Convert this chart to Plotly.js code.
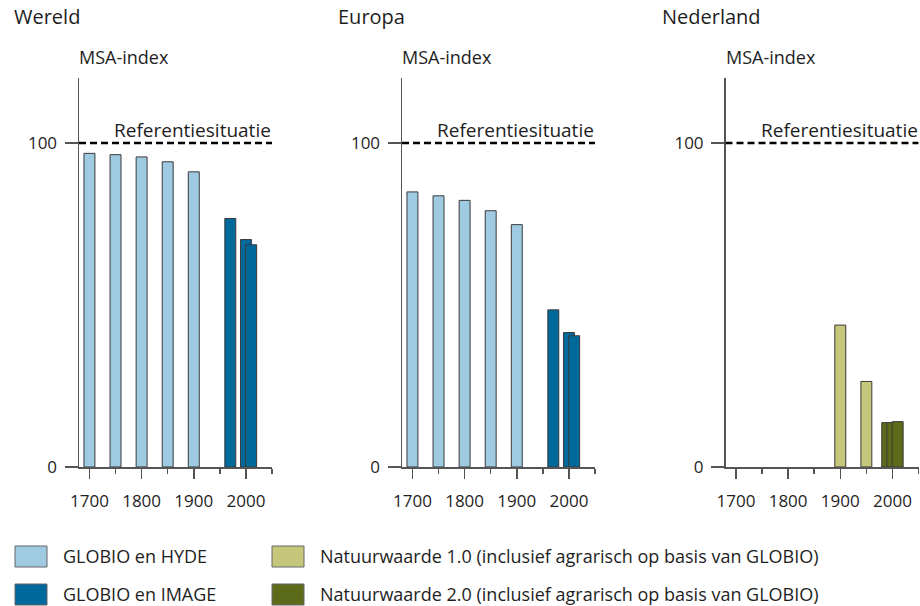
<!DOCTYPE html>
<html>
<head>
<meta charset="utf-8">
<script src="https://cdn.plot.ly/plotly-3.0.1.min.js"></script>
<style>html,body{margin:0;padding:0;background:#fff;}#chart{width:920px;height:606px;}</style>
</head>
<body>
<div id="chart"></div>
<script>
// ---- data ----
const hydeYears = [1700, 1750, 1800, 1850, 1900];
const imageYears = [1970, 2000, 2010];
const wereldHyde = [96.8, 96.4, 95.7, 94.2, 91.1];
const wereldImage = [76.7, 70.2, 68.6];
const europaHyde = [84.9, 83.7, 82.3, 79.1, 74.8];
const europaImage = [48.5, 41.5, 40.5];
const nw1Years = [1900, 1950];
const nw1Values = [43.8, 26.4];
const nw2Years = [1990, 2000, 2010];
const nw2Values = [13.7, 13.7, 14.0];
const referenceValue = 100;
const panelTitles = ["Wereld", "Europa", "Nederland"];
const yTitle = "MSA-index";
const refLabel = "Referentiesituatie";
const majorTicks = [1700, 1800, 1900, 2000];
const minorTicks = [1750, 1850, 1950, 2050];
const yTicks = [0, 100];
const legendLabels = [
  "GLOBIO en HYDE",
  "GLOBIO en IMAGE",
  "Natuurwaarde 1.0 (inclusief agrarisch op basis van GLOBIO)",
  "Natuurwaarde 2.0 (inclusief agrarisch op basis van GLOBIO)"
];

// ---- style ----
const W = 920, H = 606;
const FONT = "Open Sans, Noto Sans, sans-serif";
const TXT = "#1e1e1e";
const AX = "#555555";
const C_HYDE = "#9ecae2";
const C_IMAGE = "#00699c";
const C_NW1 = "#c5c77b";
const C_NW2 = "#5c6b1a";
const EDGE = "#3a3a3a";
const BARW = 21;

const px = v => v / W;
const py = v => 1 - v / H;

function bar(x, y, color, xa, ya) {
  return {type: "bar", x: x, y: y, width: BARW, xaxis: xa, yaxis: ya,
    marker: {color: color, line: {color: EDGE, width: 1}}, hoverinfo: "skip", showlegend: false};
}

const data = [
  bar(hydeYears, wereldHyde, C_HYDE, "x", "y"),
  bar(imageYears, wereldImage, C_IMAGE, "x", "y"),
  bar(hydeYears, europaHyde, C_HYDE, "x2", "y2"),
  bar(imageYears, europaImage, C_IMAGE, "x2", "y2"),
  bar(nw1Years, nw1Values, C_NW1, "x3", "y3"),
  bar(nw2Years, nw2Values, C_NW2, "x3", "y3")
];

const xLefts = [79, 402, 725.5];
const axisW = 193.3;
const yDomain = [py(467), py(78.2)];

function xaxis(i) {
  return {
    domain: [px(xLefts[i]), px(xLefts[i] + axisW)],
    range: [1680, 2050.5],
    anchor: i === 0 ? "y" : "y" + (i + 1),
    showline: true, linecolor: AX, linewidth: 1.5,
    showgrid: false, zeroline: false,
    ticks: "outside", tickmode: "array", tickvals: majorTicks,
    ticklen: 10, tickwidth: 1.5, tickcolor: AX,
    ticklabelstandoff: 8,
    tickfont: {family: FONT, size: 17, color: TXT},
    minor: {tickmode: "array", tickvals: minorTicks, ticks: "outside", ticklen: 5, tickwidth: 1.5, tickcolor: AX, showgrid: false},
    fixedrange: true
  };
}
function yaxis(i) {
  return {
    domain: yDomain,
    range: [0, 120],
    anchor: i === 0 ? "x" : "x" + (i + 1),
    showline: true, linecolor: AX, linewidth: 1.5,
    showgrid: false, zeroline: false,
    ticks: "outside", tickmode: "array", tickvals: yTicks,
    ticklen: 13, tickwidth: 1.5, tickcolor: AX,
    ticklabelstandoff: 4,
    tickfont: {family: FONT, size: 17, color: TXT},
    fixedrange: true
  };
}

const shapes = [];
const annotations = [];
const titleX = [14, 338, 662];
for (let i = 0; i < 3; i++) {
  const xs = i === 0 ? "x" : "x" + (i + 1);
  const ys = i === 0 ? "y" : "y" + (i + 1);
  shapes.push({type: "line", xref: xs, yref: ys, x0: 1680, x1: 2050, y0: referenceValue, y1: referenceValue,
    line: {color: "#000", width: 2.6, dash: "7px,4px"}, layer: "above"});
  annotations.push({text: refLabel, xref: "paper", yref: "paper", x: px(xLefts[i] + axisW + 1), y: py(130),
    xanchor: "right", yanchor: "middle", showarrow: false, font: {family: FONT, size: 19, color: TXT}});
  annotations.push({text: panelTitles[i], xref: "paper", yref: "paper", x: px(titleX[i] - 2), y: py(17),
    xanchor: "left", yanchor: "middle", showarrow: false, font: {family: FONT, size: 20, color: TXT}});
  annotations.push({text: yTitle, xref: "paper", yref: "paper", x: px(xLefts[i] - 2), y: py(57),
    xanchor: "left", yanchor: "middle", showarrow: false, font: {family: FONT, size: 18, color: TXT}});
}

// legend (custom)
const legItems = [
  {x: 15, y: 546, c: C_HYDE, t: legendLabels[0]},
  {x: 15, y: 584, c: C_IMAGE, t: legendLabels[1]},
  {x: 272, y: 546, c: C_NW1, t: legendLabels[2]},
  {x: 272, y: 584, c: C_NW2, t: legendLabels[3]}
];
legItems.forEach(it => {
  shapes.push({type: "rect", xref: "paper", yref: "paper", x0: px(it.x), x1: px(it.x + 32), y0: py(it.y), y1: py(it.y + 21),
    fillcolor: it.c, line: {color: "#666", width: 1}});
  annotations.push({text: it.t, xref: "paper", yref: "paper", x: px(it.x + 46), y: py(it.y + 10),
    xanchor: "left", yanchor: "middle", showarrow: false, font: {family: FONT, size: 18, color: TXT}});
});

const layout = {
  width: W, height: H,
  margin: {l: 0, r: 0, t: 0, b: 0},
  paper_bgcolor: "#fff", plot_bgcolor: "rgba(0,0,0,0)",
  barmode: "overlay", showlegend: false,
  xaxis: xaxis(0), xaxis2: xaxis(1), xaxis3: xaxis(2),
  yaxis: yaxis(0), yaxis2: yaxis(1), yaxis3: yaxis(2),
  shapes: shapes, annotations: annotations,
  font: {family: FONT, color: TXT}
};

Plotly.newPlot("chart", data, layout, {displayModeBar: false, staticPlot: true});
</script>
</body>
</html>
